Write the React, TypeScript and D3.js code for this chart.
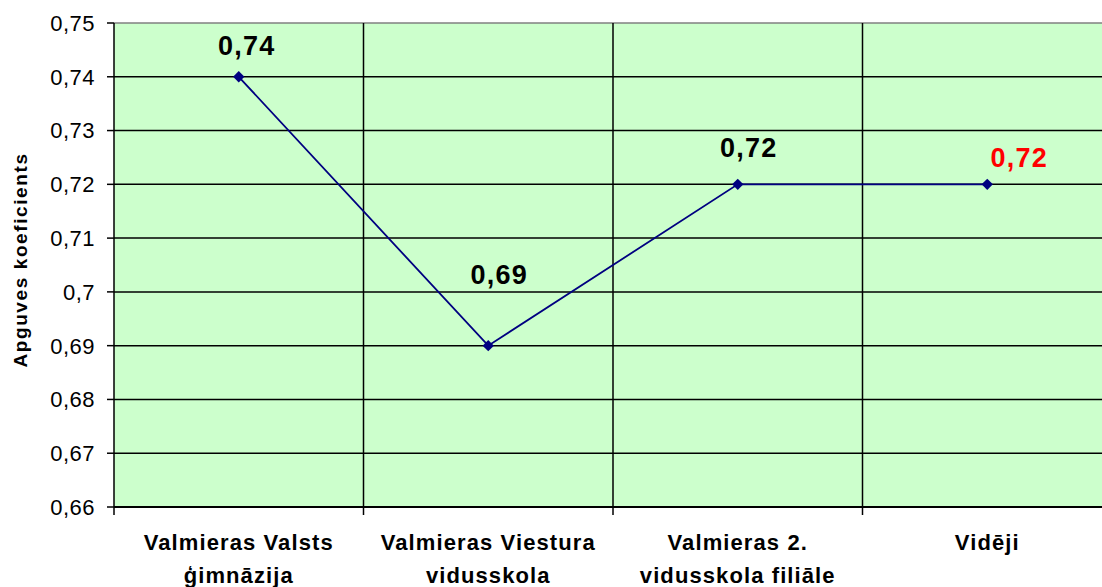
import React from "react";
import * as d3 from "d3";

const categories: string[][] = [
  ["Valmieras Valsts", "ģimnāzija"],
  ["Valmieras Viestura", "vidusskola"],
  ["Valmieras 2.", "vidusskola filiāle"],
  ["Vidēji"],
];
const values: number[] = [0.74, 0.69, 0.72, 0.72];
const labelTexts: string[] = ["0,74", "0,69", "0,72", "0,72"];
const labelColors: string[] = ["#000000", "#000000", "#000000", "#FF0000"];
const yTicks: number[] = [0.66, 0.67, 0.68, 0.69, 0.7, 0.71, 0.72, 0.73, 0.74, 0.75];
const yTitle = "Apguves koeficients";

const W = 1102;
const H = 587;
const left = 114;
const right = 1112;
const top = 23;
const bottom = 507;
const FONT = "'Liberation Sans', Arial, sans-serif";

// manual label placement (dx to label center, dy to baseline)
const labelShift: [number, number][] = [
  [8, -22],
  [11, -62],
  [11, -27],
  [32, -17],
];

export default function App() {
  const x = d3
    .scaleBand<number>()
    .domain(values.map((_, i) => i))
    .range([left, right])
    .padding(0);
  const y = d3.scaleLinear().domain([0.66, 0.75]).range([bottom, top]);
  const cx = (i: number) => (x(i) as number) + x.bandwidth() / 2;

  const line = d3
    .line<number>()
    .x((_, i) => cx(i))
    .y((d) => y(d));

  const fmt = (v: number) => {
    const s = d3.format(".2f")(v);
    const t = s.replace(/0$/, "");
    return t.replace(".", ",");
  };

  const boundaries = values.map((_, i) => x(i) as number).concat([right]);

  return (
    <svg
      width={W}
      height={H}
      style={{ position: "absolute", left: 0, top: 0, background: "#fff" }}
      fontFamily={FONT}
    >
      <rect x={left} y={top} width={right - left} height={bottom - top} fill="#CCFFCC" />
      {yTicks.map((t) => (
        <line
          key={"g" + t}
          x1={left}
          x2={right}
          y1={y(t)}
          y2={y(t)}
          stroke={t === 0.75 ? "#808080" : "#000"}
          strokeWidth={1.5}
        />
      ))}
      {boundaries.slice(1).map((b, i) => (
        <line key={"v" + i} x1={b} x2={b} y1={top} y2={bottom} stroke="#000" strokeWidth={1.5} />
      ))}
      {/* y axis */}
      <line x1={left} x2={left} y1={top} y2={bottom} stroke="#000" strokeWidth={1.5} />
      {yTicks.map((t) => (
        <g key={"t" + t}>
          <line x1={left - 7} x2={left} y1={y(t)} y2={y(t)} stroke="#000" strokeWidth={1.5} />
          <text
            x={left - 19}
            y={y(t)}
            dy="0.36em"
            textAnchor="end"
            fontSize={22}
            letterSpacing={0.5}
            fill="#000"
          >
            {fmt(t)}
          </text>
        </g>
      ))}
      {/* x axis */}
      <line x1={left} x2={right} y1={bottom} y2={bottom} stroke="#000" strokeWidth={2} />
      {boundaries.map((b, i) => (
        <line key={"xt" + i} x1={b} x2={b} y1={bottom} y2={bottom + 8} stroke="#000" strokeWidth={1.5} />
      ))}
      {categories.map((lines, i) => (
        <text
          key={"c" + i}
          x={cx(i)}
          textAnchor="middle"
          fontSize={22}
          fontWeight="bold"
          letterSpacing={1.1}
          fill="#000"
        >
          {lines.map((l, j) => (
            <tspan key={j} x={cx(i)} y={550 + j * 33}>
              {l}
            </tspan>
          ))}
        </text>
      ))}
      {/* y title */}
      <text
        transform={`translate(27,260) rotate(-90)`}
        textAnchor="middle"
        fontSize={19}
        fontWeight="bold"
        letterSpacing={1.6}
        fill="#000"
      >
        {yTitle}
      </text>
      {/* series */}
      <path d={line(values) || ""} fill="none" stroke="#000080" strokeWidth={1.8} />
      {values.map((v, i) => (
        <rect
          key={"m" + i}
          x={cx(i) - 4}
          y={y(v) - 4}
          width={8}
          height={8}
          fill="#000080"
          transform={`rotate(45 ${cx(i)} ${y(v)})`}
        />
      ))}
      {values.map((v, i) => (
        <text
          key={"l" + i}
          x={cx(i) + labelShift[i][0]}
          y={y(v) + labelShift[i][1]}
          textAnchor="middle"
          fontSize={27}
          fontWeight="bold"
          letterSpacing={1.2}
          fill={labelColors[i]}
        >
          {labelTexts[i]}
        </text>
      ))}
    </svg>
  );
}
